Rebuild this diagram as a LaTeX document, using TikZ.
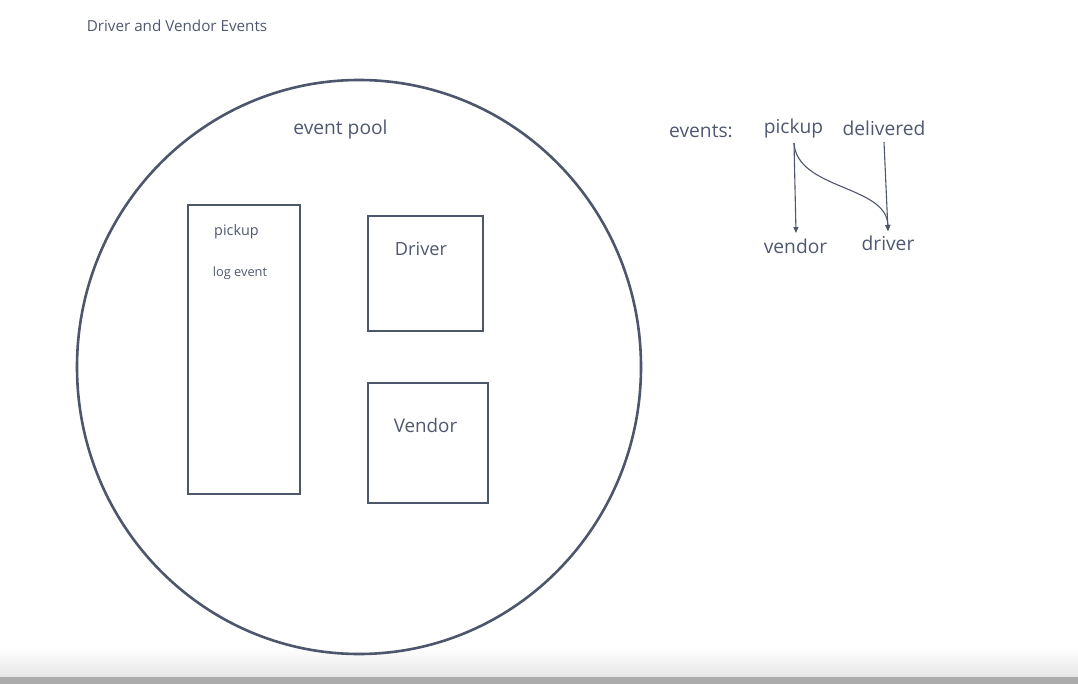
\documentclass[tikz,border=0pt]{standalone}
\usepackage{fontspec}
\setmainfont{Open Sans}
\usetikzlibrary{arrows.meta}
\definecolor{ink}{HTML}{4E566C}
\definecolor{txt}{HTML}{505870}
\begin{document}
\begin{tikzpicture}[x=1pt,y=-1pt,
  shapeline/.style={draw=ink, line width=2.6pt},
  lbl/.style={text=txt, inner sep=0pt, anchor=center},
  big/.style={font=\fontsize{19.2}{22}\selectfont},
  conn/.style={draw=ink, line width=1.1pt, -{Triangle[length=6pt,width=5pt]}}]
\useasboundingbox (0,0) rectangle (1078,684);
% screenshot bottom band
\shade[top color=white, bottom color=black!10, draw=none] (0,648) rectangle (1078,677);
\fill[black!33] (0,677) rectangle (1078,684);
% event pool
\draw[shapeline] (359,367) ellipse [x radius=282, y radius=287];
\node[lbl, font=\fontsize{15.2}{18}\selectfont] (title) at (177,26) {Driver and Vendor Events};
\node[lbl, big] (pool) at (340.5,130) {event pool};
% boxes
\draw[shapeline] (188,205) rectangle (300,494);
\node[lbl, font=\fontsize{14.4}{17}\selectfont] (pk) at (236.5,232) {pickup};
\node[lbl, font=\fontsize{12.8}{15}\selectfont] (log) at (240,273) {log event};
\draw[shapeline] (368,216) rectangle (483,331);
\node[lbl, font=\fontsize{18.2}{21}\selectfont] (drv) at (421,249) {Driver};
\draw[shapeline] (368,383) rectangle (488,503);
\node[lbl, font=\fontsize{18.8}{22}\selectfont] (vnd) at (425.5,425) {Vendor};
% events
\node[lbl, big] (ev) at (701,131) {events:};
\node[lbl, big] (epick) at (793.5,129) {pickup};
\node[lbl, big] (edel) at (884,128) {delivered};
\node[lbl, big] (evend) at (795.5,246) {vendor};
\node[lbl, big] (edrv) at (888,243) {driver};
\coordinate (ps) at (794,143);
\coordinate (ds) at (884,142);
\coordinate (vn) at (796,233);
\coordinate (rn) at (888,231);
\draw[conn] (ps) -- (vn);
\draw[conn] (ds) -- (rn);
\draw[conn] (ps) .. controls (797,190) and (887,185) .. (rn);
\end{tikzpicture}
\end{document}
